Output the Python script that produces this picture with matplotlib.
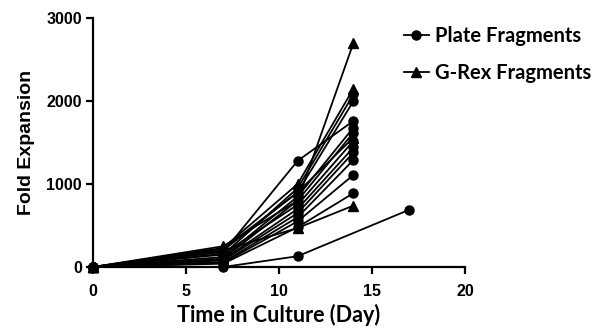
import matplotlib
matplotlib.use("Agg")
import matplotlib.pyplot as plt
from matplotlib.lines import Line2D

# days sampled for each culture
days = [0, 7, 11, 14]
days_late = [0, 7, 11, 17]

# fold expansion, plate fragments (circles)
plate_series = [
    [0, 180, 1280, 1760],
    [0, 150, 950, 2080],
    [0, 200, 900, 2000],
    [0, 120, 850, 1680],
    [0, 100, 800, 1620],
    [0, 160, 750, 1520],
    [0, 90, 700, 1440],
    [0, 80, 650, 1380],
    [0, 60, 600, 1290],
    [0, 50, 550, 1110],
    [0, 40, 480, 890],
]
plate_late = [0, 0, 130, 690]

# fold expansion, G-Rex fragments (triangles)
grex_series = [
    [0, 250, 800, 2700],
    [0, 230, 1000, 2150],
    [0, 220, 900, 1560],
    [0, 200, 470, 740],
]

x_ticks = [0, 5, 10, 15, 20]
y_ticks = [0, 1000, 2000, 3000]

plt.rcParams["font.family"] = ["Liberation Sans", "DejaVu Sans"]

fig = plt.figure(figsize=(6.16, 3.28), dpi=100)
ax = fig.add_axes([0.151, 0.186, 0.604, 0.759])

style = dict(color="black", linewidth=1.3, markersize=6.5, clip_on=False)
for s in plate_series:
    ax.plot(days, s, marker="o", **style)
ax.plot(days_late, plate_late, marker="o", **style)
for s in grex_series:
    ax.plot(days, s, marker="^", **style)

ax.set_xlim(0, 20)
ax.set_ylim(0, 3000)
ax.set_xticks(x_ticks)
ax.set_yticks(y_ticks)
for sp in ["top", "right"]:
    ax.spines[sp].set_visible(False)
for sp in ["left", "bottom"]:
    ax.spines[sp].set_linewidth(1.6)
ax.tick_params(width=1.6, length=5, labelsize=11.5, pad=3)
ax.tick_params(axis="x", pad=7)
for lab in ax.get_xticklabels() + ax.get_yticklabels():
    lab.set_fontweight("bold")

ax.set_xlabel("Time in Culture (Day)", fontsize=15.5, fontweight="bold",
              family="Lato", labelpad=4)
ax.set_ylabel("Fold Expansion", fontsize=14, fontweight="bold", labelpad=8)

handles = [
    Line2D([], [], color="black", linewidth=1.3, marker="o", markersize=6.5),
    Line2D([], [], color="black", linewidth=1.3, marker="^", markersize=6.5),
]
fig.legend(handles, ["Plate Fragments", "G-Rex Fragments"],
           loc="upper left", bbox_to_anchor=(0.627, 0.975), frameon=False,
           handlelength=1.2, handletextpad=0.3, labelspacing=0.85,
           prop={"family": "Lato", "weight": "bold", "size": 14.5})

fig.savefig("out.png", dpi=100)
